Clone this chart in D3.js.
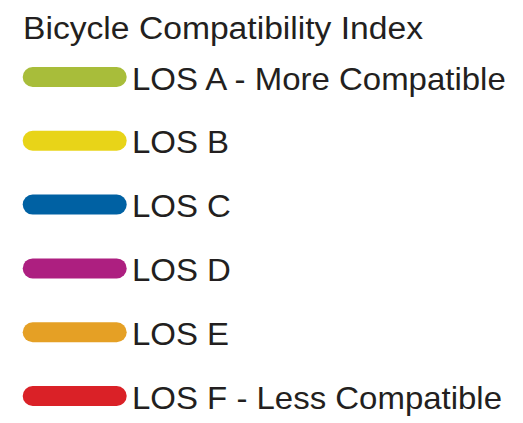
<!DOCTYPE html>
<html>
<head>
<meta charset="utf-8">
<script src="https://cdn.jsdelivr.net/npm/d3@7"></script>
<style>
  body { margin: 0; background: #fff; }
  text { font-family: "Liberation Sans", Arial, sans-serif; fill: #231f20; }
</style>
</head>
<body>
<div id="legend"></div>
<script>
// legend entries
var title = "Bicycle Compatibility Index";
var labels = ["LOS A - More Compatible", "LOS B", "LOS C", "LOS D", "LOS E", "LOS F - Less Compatible"];
var colors = ["#a8bd3a", "#e8d418", "#0061a3", "#ad1f80", "#e5a025", "#da2127"];

var width = 523, height = 423;

var svg = d3.select("#legend").append("svg")
    .attr("width", width)
    .attr("height", height);

// original face runs a bit wider than Arial, so stretch the text slightly
function widen(sel, k) {
  sel.each(function() {
    var w = this.getComputedTextLength();
    d3.select(this)
      .attr("textLength", w * k)
      .attr("lengthAdjust", "spacingAndGlyphs");
  });
}

svg.append("text")
    .attr("x", 23)
    .attr("y", 38.5)
    .style("font-size", "31px")
    .text(title)
    .call(widen, 1.085);

// rows evenly spaced, first centre at 77, last at 396
var y = d3.scalePoint()
    .domain(labels)
    .range([77, 396]);

var row = svg.selectAll("g.row")
    .data(labels)
    .enter().append("g")
    .attr("class", "row")
    .attr("transform", function(d) { return "translate(0," + y(d) + ")"; });

row.append("line")
    .attr("x1", 32.7).attr("x2", 116.7)
    .attr("y1", 0).attr("y2", 0)
    .attr("stroke", function(d, i) { return colors[i]; })
    .attr("stroke-width", 20)
    .attr("stroke-linecap", "round");

row.append("text")
    .attr("x", 132)
    .attr("y", 12.5)
    .style("font-size", "32px")
    .text(function(d) { return d; })
    .call(widen, 1.03);
</script>
</body>
</html>
